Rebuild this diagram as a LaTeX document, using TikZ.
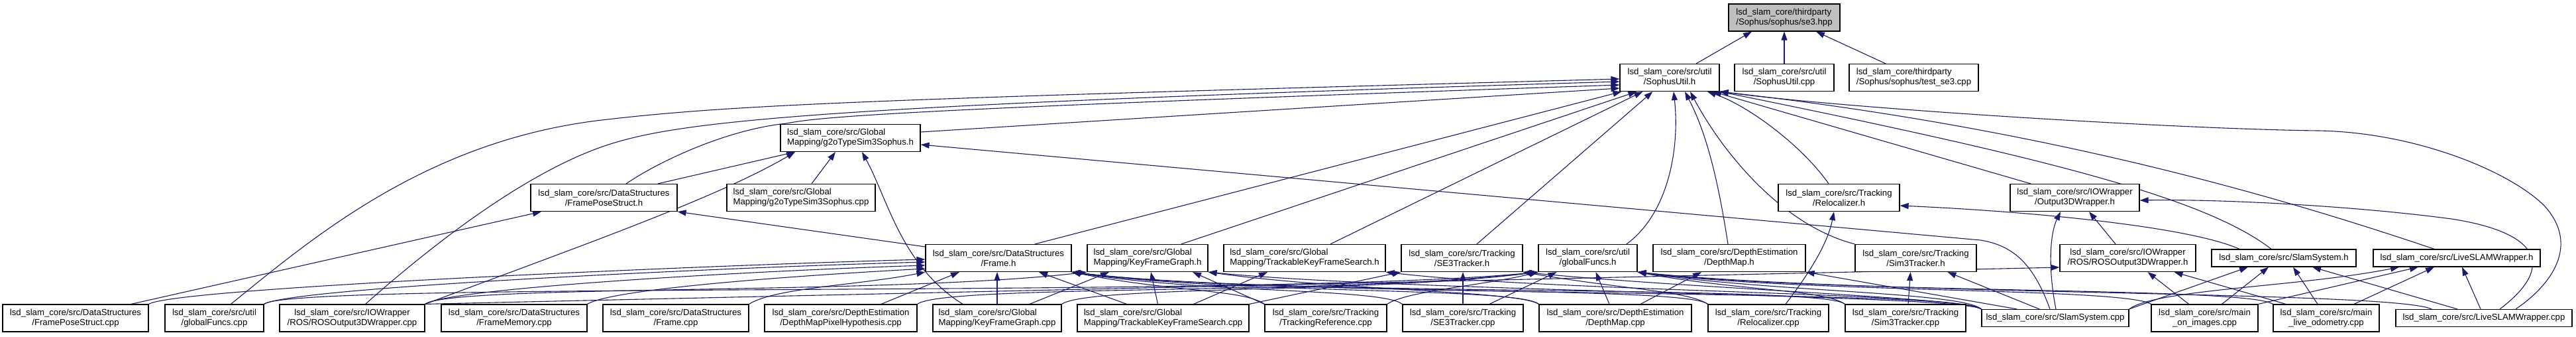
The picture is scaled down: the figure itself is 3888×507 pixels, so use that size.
\documentclass[tikz,border=0pt]{standalone}
\usepackage{fontspec}
\setmainfont{Liberation Sans}
\usetikzlibrary{arrows.meta}
\definecolor{edgeblue}{RGB}{25,25,112}
\definecolor{hdrgray}{RGB}{191,191,191}
\pgfdeclarelayer{bg}
\pgfsetlayers{bg,main}
\begin{document}
\begin{tikzpicture}[x=1pt,y=-1pt,
  nd/.style={draw=black,line width=1.2pt,fill=white,inner sep=0pt,align=center,minimum height=41pt,font=\fontsize{13.2}{15}\selectfont},
  ndl/.style={nd,align=left},
  one/.style={minimum height=26pt},
  inc/.style={draw=edgeblue,line width=1.1pt,line join=round,-{Triangle[length=13pt,width=9pt]}},
]
\useasboundingbox (0,0) rectangle (3888,507);

% ---- nodes ----
\node[ndl,fill=hdrgray,minimum width=168pt] (se3) at (2693,26.5) {lsd\_slam\_core/thirdparty\\/Sophus/sophus/se3.hpp};
\node[nd,minimum width=150pt] (SUh) at (2520,117) {lsd\_slam\_core/src/util\\/SophusUtil.h};
\node[nd,minimum width=150pt] (SUc) at (2693,117) {lsd\_slam\_core/src/util\\/SophusUtil.cpp};
\node[ndl,minimum width=195pt] (tse3) at (2888.5,117) {lsd\_slam\_core/thirdparty\\/Sophus/sophus/test\_se3.cpp};
\node[ndl,minimum width=211pt] (g2oh) at (1283.5,208) {lsd\_slam\_core/src/Global\\Mapping/g2oTypeSim3Sophus.h};
\node[nd,minimum width=221pt] (FPSh) at (911.5,298) {lsd\_slam\_core/src/DataStructures\\/FramePoseStruct.h};
\node[ndl,minimum width=224pt] (g2oc) at (1209,298) {lsd\_slam\_core/src/Global\\Mapping/g2oTypeSim3Sophus.cpp};
\node[nd,minimum width=183pt] (Relh) at (2775.5,298) {lsd\_slam\_core/src/Tracking\\/Relocalizer.h};
\node[nd,minimum width=195pt] (O3Dh) at (3131.5,298) {lsd\_slam\_core/src/IOWrapper\\/Output3DWrapper.h};

\node[nd,minimum width=220pt] (Frh) at (1507,389) {lsd\_slam\_core/src/DataStructures\\/Frame.h};
\node[ndl,minimum width=182pt] (KFGh) at (1732,389) {lsd\_slam\_core/src/Global\\Mapping/KeyFrameGraph.h};
\node[ndl,minimum width=244pt] (TKFSh) at (1969,389) {lsd\_slam\_core/src/Global\\Mapping/TrackableKeyFrameSearch.h};
\node[nd,minimum width=183pt] (SE3h) at (2206.5,389) {lsd\_slam\_core/src/Tracking\\/SE3Tracker.h};
\node[nd,minimum width=149pt] (gfh) at (2396.5,389) {lsd\_slam\_core/src/util\\/globalFuncs.h};
\node[nd,minimum width=230pt] (DMh) at (2610,389) {lsd\_slam\_core/src/DepthEstimation\\/DepthMap.h};
\node[nd,minimum width=183pt] (S3h) at (2891.5,389) {lsd\_slam\_core/src/Tracking\\/Sim3Tracker.h};
\node[nd,minimum width=205pt] (ROSh) at (3211.5,389) {lsd\_slam\_core/src/IOWrapper\\/ROS/ROSOutput3DWrapper.h};
\node[nd,one,minimum width=218pt] (SSh) at (3447,389) {lsd\_slam\_core/src/SlamSystem.h};
\node[nd,one,minimum width=252pt] (LSWh) at (3708,389) {lsd\_slam\_core/src/LiveSLAMWrapper.h};

\node[nd,minimum width=220pt] (FPSc) at (114,479.5) {lsd\_slam\_core/src/DataStructures\\/FramePoseStruct.cpp};
\node[nd,minimum width=149pt] (gfc) at (323.5,479.5) {lsd\_slam\_core/src/util\\/globalFuncs.cpp};
\node[nd,minimum width=219pt] (ROSc) at (531.5,479.5) {lsd\_slam\_core/src/IOWrapper\\/ROS/ROSOutput3DWrapper.cpp};
\node[nd,minimum width=220pt] (FMc) at (776,479.5) {lsd\_slam\_core/src/DataStructures\\/FrameMemory.cpp};
\node[nd,minimum width=220pt] (Frc) at (1020,479.5) {lsd\_slam\_core/src/DataStructures\\/Frame.cpp};
\node[nd,minimum width=230pt] (DMPHc) at (1269,479.5) {lsd\_slam\_core/src/DepthEstimation\\/DepthMapPixelHypothesis.cpp};
\node[ndl,minimum width=194pt] (KFGc) at (1505,479.5) {lsd\_slam\_core/src/Global\\Mapping/KeyFrameGraph.cpp};
\node[ndl,minimum width=259pt] (TKFSc) at (1755.5,479.5) {lsd\_slam\_core/src/Global\\Mapping/TrackableKeyFrameSearch.cpp};
\node[nd,minimum width=184pt] (TRc) at (2001,479.5) {lsd\_slam\_core/src/Tracking\\/TrackingReference.cpp};
\node[nd,minimum width=182pt] (SE3c) at (2208,479.5) {lsd\_slam\_core/src/Tracking\\/SE3Tracker.cpp};
\node[nd,minimum width=230pt] (DMc) at (2438,479.5) {lsd\_slam\_core/src/DepthEstimation\\/DepthMap.cpp};
\node[nd,minimum width=182pt] (Relc) at (2669,479.5) {lsd\_slam\_core/src/Tracking\\/Relocalizer.cpp};
\node[nd,minimum width=182pt] (S3c) at (2876,479.5) {lsd\_slam\_core/src/Tracking\\/Sim3Tracker.cpp};
\node[nd,one,minimum width=222pt] (SSc) at (3102,479.5) {lsd\_slam\_core/src/SlamSystem.cpp};
\node[nd,minimum width=161pt] (mOIc) at (3327.5,479.5) {lsd\_slam\_core/src/main\\\_on\_images.cpp};
\node[nd,minimum width=160pt] (mLOc) at (3511,479.5) {lsd\_slam\_core/src/main\\\_live\_odometry.cpp};
\node[nd,one,minimum width=266pt] (LSWc) at (3749,479.5) {lsd\_slam\_core/src/LiveSLAMWrapper.cpp};

\begin{pgfonlayer}{bg}
% ---- se3.hpp ----
\draw[inc] ([xshift=40pt]SUh.north) -- ([xshift=-49pt]se3.south);
\draw[inc] (SUc.north) -- (se3.south);
\draw[inc] ([xshift=-42.5pt]tse3.north) -- ([xshift=48pt]se3.south);

% ---- SophusUtil.h ----
\draw[inc] ([xshift=25pt]gfc.north) .. controls (470,360) and (640,215) .. (900,182) .. controls (1100,158) and (1300,150) .. ([yshift=-2pt]SUh.west);
\draw[inc] ([xshift=20pt]ROSc.north) .. controls (640,380) and (800,250) .. (935,213) .. controls (1050,180) and (1300,157) .. ([yshift=-6pt]SUh.west);
\draw[inc] ([xshift=33.5pt]FPSh.north) .. controls (1000,240) and (1100,195) .. (1187,186) .. controls (1240,176) and (1350,165) .. ([yshift=-11pt]SUh.west);
\draw[inc] ([yshift=9pt]g2oh.east) -- ([yshift=-16pt]SUh.west);
\draw[inc] ([xshift=55pt]Frh.north) -- ([xshift=3pt]SUh.south west);
\draw[inc] ([xshift=51pt]KFGh.north) -- ([xshift=26pt]SUh.south west);
\draw[inc] ([xshift=39pt]TKFSh.north) -- ([xshift=35pt]SUh.south west);
\draw[inc] ([xshift=22.5pt]SE3h.north) -- ([xshift=50pt]SUh.south west);
\draw[inc] ([xshift=58.5pt]gfh.north) .. controls (2520,320) and (2535,220) .. ([xshift=6pt]SUh.south);
\draw[inc] ([xshift=-2pt]DMh.north) .. controls (2590,250) and (2570,190) .. ([xshift=23pt]SUh.south);
\draw[inc] (S3h.north west) .. controls (2690,340) and (2600,230) .. ([xshift=31pt]SUh.south);
\draw[inc] ([xshift=-15.5pt]Relh.north) .. controls (2720,220) and (2640,160) .. ([xshift=57pt]SUh.south);
\draw[inc] ([xshift=-66.5pt]O3Dh.north) -- ([xshift=65pt]SUh.south);
\draw[inc] ([xshift=-19pt]SSh.north) .. controls (3330,300) and (3100,240) .. (SUh.south east);
\draw[inc] ([xshift=-34pt]LSWh.north) .. controls (3450,300) and (3100,195) .. (SUh.south east);
\draw[inc] ([xshift=48pt]LSWc.north) .. controls (3850,430) and (3895,370) .. (3840,310) .. controls (3790,260) and (3650,200) .. (3500,197) .. controls (3300,195) and (2800,165) .. (SUh.south east);

% ---- g2oTypeSim3Sophus.h ----
\draw[inc] ([xshift=81.5pt]FPSh.north) -- ([xshift=-83.5pt]g2oh.south);
\draw[inc] (ROSc.north east) .. controls (850,380) and (1080,300) .. ([xshift=-83.5pt]g2oh.south);
\draw[inc] ([xshift=16pt]g2oc.north) -- ([xshift=-22.5pt]g2oh.south);
\draw[inc] ([xshift=-52pt]KFGc.north) .. controls (1360,400) and (1340,300) .. ([xshift=17.5pt]g2oh.south);
\draw[inc] ([xshift=-8pt]SSc.north) .. controls (3070,400) and (3040,370) .. (2989,362) -- ([yshift=-10pt]g2oh.east);

% ---- FramePoseStruct.h ----
\draw[inc] ([xshift=84pt]FPSc.north) -- ([xshift=-94.5pt]FPSh.south);
\draw[inc] ([yshift=17pt]Frh.west) -- (FPSh.south east);

% ---- Relocalizer.h ----
\draw[inc] ([xshift=26pt]Relc.north) .. controls (2740,400) and (2760,360) .. ([xshift=-7.5pt]Relh.south);
\draw[inc] ([xshift=-67pt]SSh.north) .. controls (3300,340) and (3050,318) .. ([yshift=-12pt]Relh.east);

% ---- Output3DWrapper.h ----
\draw[inc] ([xshift=1pt]SSc.north) .. controls (3090,400) and (3095,350) .. ([xshift=-21.5pt]O3Dh.south);
\draw[inc] ([xshift=-18.5pt]ROSh.north) -- ([xshift=21.5pt]O3Dh.south);
\draw[inc] ([xshift=24pt]LSWc.north) .. controls (3860,400) and (3830,350) .. (3700,330) .. controls (3550,310) and (3350,300) .. ([yshift=-4pt]O3Dh.east);

% ---- Frame.h ----
\draw[inc] (FPSc.north east) .. controls +(40,-25) and +(-300,8) .. ([yshift=-2pt]Frh.west);
\draw[inc] (gfc.north east) .. controls +(40,-25) and +(-300,8) .. ([yshift=-6pt]Frh.west);
\draw[inc] (ROSc.north east) .. controls +(40,-25) and +(-250,8) .. ([yshift=-11pt]Frh.west);
\draw[inc] (FMc.north east) .. controls +(40,-25) and +(-150,8) .. ([yshift=-16pt]Frh.west);
\draw[inc] (Frc.north east) .. controls +(40,-25) and +(-100,20) .. (Frh.south west);
\draw[inc] ([xshift=61pt]DMPHc.north) -- ([xshift=-59pt]Frh.south);
\draw[inc] (KFGc.north) -- (KFGc.north |- Frh.south);
\draw[inc] ([xshift=-55pt]TKFSc.north) -- ([xshift=61pt]Frh.south);
\draw[inc] (TRc.north west) .. controls +(-30,-22) and +(150,30) .. (Frh.south east);
\draw[inc] (SE3c.north west) .. controls +(-30,-24) and +(200,32) .. (Frh.south east);
\draw[inc] (DMc.north west) .. controls +(-30,-26) and +(250,34) .. (Frh.south east);
\draw[inc] (Relc.north west) .. controls +(-30,-28) and +(300,36) .. (Frh.south east);
\draw[inc] (S3c.north west) .. controls +(-30,-30) and +(300,38) .. (Frh.south east);
\draw[inc] (SSc.north west) .. controls +(-30,-32) and +(300,40) .. (Frh.south east);

% ---- KeyFrameGraph.h ----
\draw[inc] (ROSc.north east) .. controls +(40,-30) and +(-300,35) .. (KFGh.south west);
\draw[inc] ([xshift=49pt]KFGc.north) -- ([xshift=-58pt]KFGh.south);
\draw[inc] ([xshift=-8pt]TKFSc.north) -- ([xshift=5pt]KFGh.south);
\draw[inc] (TRc.north west) -- ([xshift=68pt]KFGh.south);
\draw[inc] (DMc.north west) .. controls +(-30,-20) and +(200,28) .. (KFGh.south east);
\draw[inc] (SSc.north west) .. controls +(-30,-22) and +(300,30) .. (KFGh.south east);

% ---- TrackableKeyFrameSearch.h ----
\draw[inc] ([xshift=46pt]TKFSc.north) -- ([xshift=-56pt]TKFSh.south);
\draw[inc] (SSc.north west) .. controls +(-30,-25) and +(250,30) .. (TKFSh.south east);

% ---- SE3Tracker.h ----
\draw[inc] (SE3c.north) -- (SE3c.north |- SE3h.south);
\draw[inc] (TKFSc.north east) -- (SE3h.south west);
\draw[inc] (Relc.north west) .. controls +(-30,-20) and +(150,26) .. (SE3h.south east);
\draw[inc] (SSc.north west) .. controls +(-30,-18) and +(250,25) .. (SE3h.south east);

% ---- globalFuncs.h ----
\draw[inc] (gfc.north east) .. controls +(40,-35) and +(-400,40) .. (gfh.south west);
\draw[inc] (DMPHc.north east) .. controls +(40,-30) and +(-300,35) .. (gfh.south west);
\draw[inc] (KFGc.north east) .. controls +(40,-28) and +(-250,32) .. (gfh.south west);
\draw[inc] (TRc.north east) .. controls +(30,-20) and +(-80,20) .. (gfh.south west);
\draw[inc] ([xshift=40pt]SE3c.north) -- ([xshift=-47pt]gfh.south);
\draw[inc] ([xshift=-9pt]DMc.north) -- ([xshift=12pt]gfh.south);
\draw[inc] (S3c.north west) .. controls +(-30,-22) and +(150,28) .. (gfh.south east);
\draw[inc] (SSc.north west) .. controls +(-30,-26) and +(200,30) .. (gfh.south east);
\draw[inc] (mOIc.north west) .. controls +(-40,-25) and +(250,32) .. (gfh.south east);
\draw[inc] (mLOc.north west) .. controls +(-40,-27) and +(300,34) .. (gfh.south east);
\draw[inc] ([xshift=-79pt]LSWc.north) .. controls +(-60,-28) and +(350,36) .. (gfh.south east);

% ---- DepthMap.h ----
\draw[inc] ([xshift=38pt]DMc.north) -- ([xshift=-42pt]DMh.south);
\draw[inc] ([xshift=-58pt]SSc.north) -- (DMh.south east);

% ---- Sim3Tracker.h ----
\draw[inc] ([xshift=4pt]S3c.north) -- ([xshift=-8pt]S3h.south);
\draw[inc] ([xshift=-24pt]SSc.north) -- ([xshift=48pt]S3h.south);

% ---- ROSOutput3DWrapper.h ----
\draw[inc] (ROSc.north east) -- ([yshift=-14pt]ROSh.west);
\draw[inc] ([xshift=-24pt]mOIc.north) -- ([xshift=30pt]ROSh.south);
\draw[inc] ([xshift=-61pt]mLOc.north) -- ([xshift=70pt]ROSh.south);

% ---- SlamSystem.h ----
\draw[inc] (SSc.north east) -- ([xshift=-54pt]SSh.south);
\draw[inc] ([xshift=26pt]mOIc.north) -- ([xshift=-23pt]SSh.south);
\draw[inc] ([xshift=-13pt]mLOc.north) -- ([xshift=14pt]SSh.south);
\draw[inc] ([xshift=-40pt]LSWc.north) -- ([xshift=43pt]SSh.south);

% ---- LiveSLAMWrapper.h ----
\draw[inc] (SSc.north east) .. controls +(40,-30) and +(-150,30) .. ([xshift=-87pt]LSWh.south);
\draw[inc] (mOIc.north east) -- ([xshift=-58pt]LSWh.south);
\draw[inc] ([xshift=42pt]mLOc.north) -- ([xshift=-34pt]LSWh.south);
\draw[inc] ([xshift=-5pt]LSWc.north) -- ([xshift=8pt]LSWh.south);
\end{pgfonlayer}
\end{tikzpicture}
\end{document}
